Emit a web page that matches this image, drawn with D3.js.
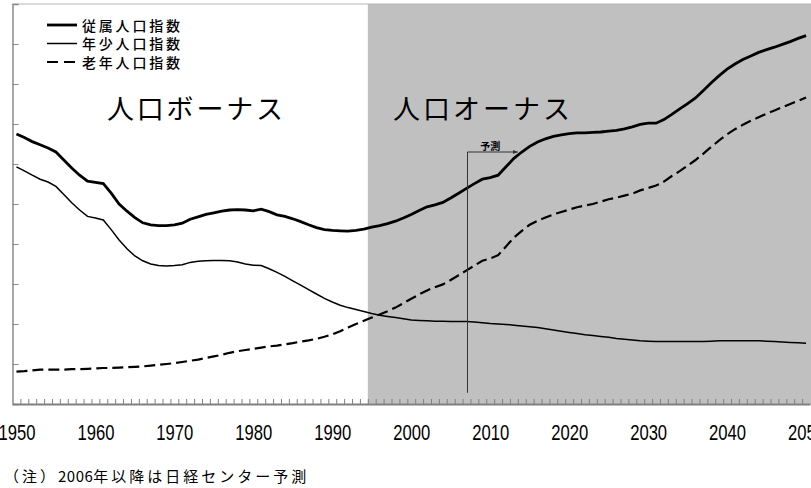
<!DOCTYPE html>
<html lang="ja">
<head>
<meta charset="UTF-8">
<title>従属人口指数の推移</title>
<script src="https://d3js.org/d3.v7.min.js"></script>
<style>
    body { margin: 0; background: #fff; }
    svg { display: block; }
    text { font-family: "Noto Sans CJK JP", "Noto Sans", sans-serif; fill: #000; }
    .year-label text { font-family: "Liberation Sans Narrow", "Liberation Sans", sans-serif; font-size: 22px; }
</style>
</head>
<body>
<svg width="811" height="488"></svg>
<script>
// 年ごとの値
const years = d3.range(1950, 2051);

const totalIndex = [
    67.5, 66.6, 65.6, 64.8, 64.0, 63.0, 61.0, 59.0, 57.2, 55.7,
    55.4, 55.1, 52.7, 50.0, 48.2, 46.6, 45.3, 44.8, 44.6, 44.6,
    44.8, 45.2, 46.2, 46.8, 47.4, 47.8, 48.2, 48.5, 48.6, 48.5,
    48.3, 48.7, 48.1, 47.3, 46.9, 46.3, 45.6, 44.8, 44.1, 43.6,
    43.4, 43.3, 43.2, 43.4, 43.7, 44.2, 44.6, 45.1, 45.7, 46.5,
    47.4, 48.4, 49.3, 49.8, 50.4, 51.5, 52.7, 53.9, 55.1, 56.2,
    56.6, 57.2, 59.3, 61.4, 63.0, 64.4, 65.5, 66.3, 66.9, 67.3,
    67.6, 67.8, 67.8, 67.9, 68.0, 68.2, 68.4, 68.8, 69.3, 69.9,
    70.2, 70.2, 71.1, 72.4, 73.8, 75.1, 76.5, 78.4, 80.3, 82.1,
    83.7, 85.0, 86.1, 87.0, 87.9, 88.6, 89.2, 89.9, 90.6, 91.4,
    92.1
];

const youngIndex = [
    59.3, 58.3, 57.2, 56.2, 55.5, 54.4, 52.4, 50.3, 48.5, 46.9,
    46.5, 46.0, 43.6, 41.0, 38.8, 37.0, 35.8, 35.0, 34.6, 34.5,
    34.6, 34.8, 35.4, 35.7, 35.8, 35.9, 35.9, 35.8, 35.5, 35.0,
    34.7, 34.6, 33.8, 32.9, 31.9, 30.8, 29.7, 28.6, 27.5, 26.4,
    25.5, 24.7, 24.1, 23.6, 23.1, 22.6, 22.2, 21.9, 21.6, 21.3,
    21.0, 20.9, 20.8, 20.7, 20.7, 20.6, 20.6, 20.6, 20.5, 20.3,
    20.1, 20.0, 19.9, 19.7, 19.5, 19.3, 19.1, 18.8, 18.5, 18.2,
    17.9, 17.6, 17.3, 17.1, 16.9, 16.7, 16.4, 16.2, 16.0, 15.8,
    15.7, 15.6, 15.6, 15.6, 15.6, 15.6, 15.6, 15.6, 15.7, 15.8,
    15.8, 15.8, 15.8, 15.8, 15.8, 15.7, 15.6, 15.5, 15.4, 15.3,
    15.2
];

const oldIndex = [
    8.1, 8.2, 8.4, 8.6, 8.6, 8.6, 8.6, 8.7, 8.7, 8.8,
    8.9, 9.0, 9.0, 9.1, 9.2, 9.3, 9.4, 9.6, 9.8, 10.0,
    10.2, 10.5, 10.8, 11.1, 11.5, 11.9, 12.3, 12.8, 13.2, 13.5,
    13.8, 14.1, 14.4, 14.6, 14.9, 15.2, 15.6, 15.9, 16.3, 16.8,
    17.4, 18.2, 19.1, 20.0, 20.8, 21.6, 22.4, 23.2, 24.1, 25.2,
    26.3, 27.4, 28.4, 29.2, 29.9, 31.0, 32.2, 33.4, 34.6, 35.8,
    36.4, 37.2, 39.4, 41.6, 43.3, 44.8, 45.8, 46.6, 47.4, 48.0,
    48.6, 49.2, 49.6, 50.0, 50.6, 51.2, 51.6, 52.1, 52.6, 53.4,
    54.0, 54.6, 55.6, 57.0, 58.2, 59.6, 61.0, 62.6, 64.3, 65.9,
    67.4, 68.7, 69.8, 70.8, 71.7, 72.6, 73.4, 74.2, 75.0, 75.8,
    76.6
];

const labelYears = d3.range(1950, 2051, 10);
const onusStart = 1995;
const forecastYear = 2007;

const seriesNames = ["従属人口指数", "年少人口指数", "老年人口指数"];

const svg = d3.select("svg");

const plotLeft = 12.5, plotRight = 811, plotTop = 4, plotBottom = 404;

const x = d3.scaleLinear()
    .domain([1949.5, 2050.5])
    .range([plotLeft, 810]);

const y = d3.scaleLinear()
    .domain([0, 100])
    .range([plotBottom, plotTop]);

// 人口オーナス期の網掛け
svg.append("rect")
    .attr("x", x(onusStart - 0.5))
    .attr("y", y(100))
    .attr("width", plotRight - x(onusStart - 0.5))
    .attr("height", y(0) - y(100))
    .attr("fill", "#c0c0c0");

// 上枠
svg.append("line")
    .attr("x1", plotLeft).attr("x2", plotRight)
    .attr("y1", y(100)).attr("y2", y(100))
    .attr("stroke", "#b4b4b4")
    .attr("stroke-width", 1);

// Y軸（目盛りのみ）
const yAxis = svg.append("g")
    .attr("transform", `translate(${plotLeft},0)`)
    .call(d3.axisLeft(y).tickValues(d3.range(0, 101, 10)).tickSize(-6).tickFormat(""));
yAxis.select(".domain").attr("stroke", "#8a8a8a").attr("stroke-width", 1.5);
yAxis.selectAll(".tick line").attr("stroke", "#8a8a8a");

// X軸（毎年の目盛り）
const xAxis = svg.append("g")
    .attr("transform", `translate(0,${plotBottom})`)
    .call(d3.axisBottom(x).tickValues(d3.range(1950.5, 2050.5, 1)).tickSizeInner(-5).tickSizeOuter(0).tickFormat(""));
xAxis.select(".domain").attr("stroke", "#808080").attr("stroke-width", 2);
xAxis.selectAll(".tick line").attr("stroke", "#808080");

// 年ラベル
const labelAxis = svg.append("g")
    .attr("class", "year-label")
    .attr("transform", `translate(0,${plotBottom})`)
    .call(d3.axisBottom(x).tickValues(labelYears).tickSize(0).tickPadding(20).tickFormat(d3.format("d")));
labelAxis.select(".domain").remove();
labelAxis.selectAll("text")
    .attr("fill", "#000")
    .attr("textLength", 37)
    .attr("lengthAdjust", "spacingAndGlyphs");

// 系列
const line = d3.line()
    .x((d, i) => x(years[i]))
    .y(d => y(d));

svg.append("path")
    .datum(oldIndex)
    .attr("fill", "none")
    .attr("stroke", "#000")
    .attr("stroke-width", 2.2)
    .attr("stroke-dasharray", "11,5")
    .attr("d", line);

svg.append("path")
    .datum(youngIndex)
    .attr("fill", "none")
    .attr("stroke", "#000")
    .attr("stroke-width", 1.5)
    .attr("d", line);

svg.append("path")
    .datum(totalIndex)
    .attr("fill", "none")
    .attr("stroke", "#000")
    .attr("stroke-width", 2.8)
    .attr("d", line);

// 予測の区切り
const fx = Math.round(x(forecastYear)) + 0.5;
svg.append("defs").append("marker")
    .attr("id", "arrow")
    .attr("viewBox", "0 0 10 10")
    .attr("refX", 10).attr("refY", 5)
    .attr("markerWidth", 5).attr("markerHeight", 5)
    .attr("orient", "auto")
    .append("path")
    .attr("d", "M0,1L10,5L0,9Z")
    .attr("fill", "#333");

svg.append("line")
    .attr("x1", fx).attr("x2", fx)
    .attr("y1", y(63)).attr("y2", y(2.8))
    .attr("stroke", "#333")
    .attr("stroke-width", 1);

svg.append("line")
    .attr("x1", fx).attr("x2", x(forecastYear + 6.5))
    .attr("y1", y(63)).attr("y2", y(63))
    .attr("stroke", "#333")
    .attr("stroke-width", 1)
    .attr("marker-end", "url(#arrow)");

svg.append("text")
    .attr("x", x(forecastYear + 3))
    .attr("y", y(63) - 2)
    .attr("text-anchor", "middle")
    .style("font-size", "10px")
    .style("font-weight", "bold")
    .text("予測");

// 期間名
svg.append("text")
    .attr("x", 107).attr("y", 119)
    .attr("textLength", 176)
    .style("font-size", "27px")
    .text("人口ボーナス");

svg.append("text")
    .attr("x", 393).attr("y", 119)
    .attr("textLength", 177)
    .style("font-size", "27px")
    .text("人口オーナス");

// 凡例
const legend = svg.append("g");
const legendRows = [
    { name: seriesNames[0], width: 2.8, dash: null, ly: 25 },
    { name: seriesNames[1], width: 1.5, dash: null, ly: 43.5 },
    { name: seriesNames[2], width: 2.2, dash: "11,6", ly: 62 }
];
legendRows.forEach(r => {
    legend.append("line")
        .attr("x1", 47).attr("x2", 77)
        .attr("y1", r.ly).attr("y2", r.ly)
        .attr("stroke", "#000")
        .attr("stroke-width", r.width)
        .attr("stroke-dasharray", r.dash);
    legend.append("text")
        .attr("x", 82).attr("y", r.ly + 5.5)
        .attr("textLength", 98)
        .style("font-size", "14px")
        .style("font-weight", "500")
        .text(r.name);
});

// 注記（数字は詰め、和文は字間を空ける）
const note = svg.append("text")
    .attr("x", 4).attr("y", 482)
    .style("font-size", "15px");
note.append("tspan").attr("letter-spacing", "3px").text("（注）");
note.append("tspan").attr("letter-spacing", "0.5px").text("2006");
note.append("tspan").attr("letter-spacing", "3px").text("年以降は日経センター予測");
</script>
</body>
</html>
